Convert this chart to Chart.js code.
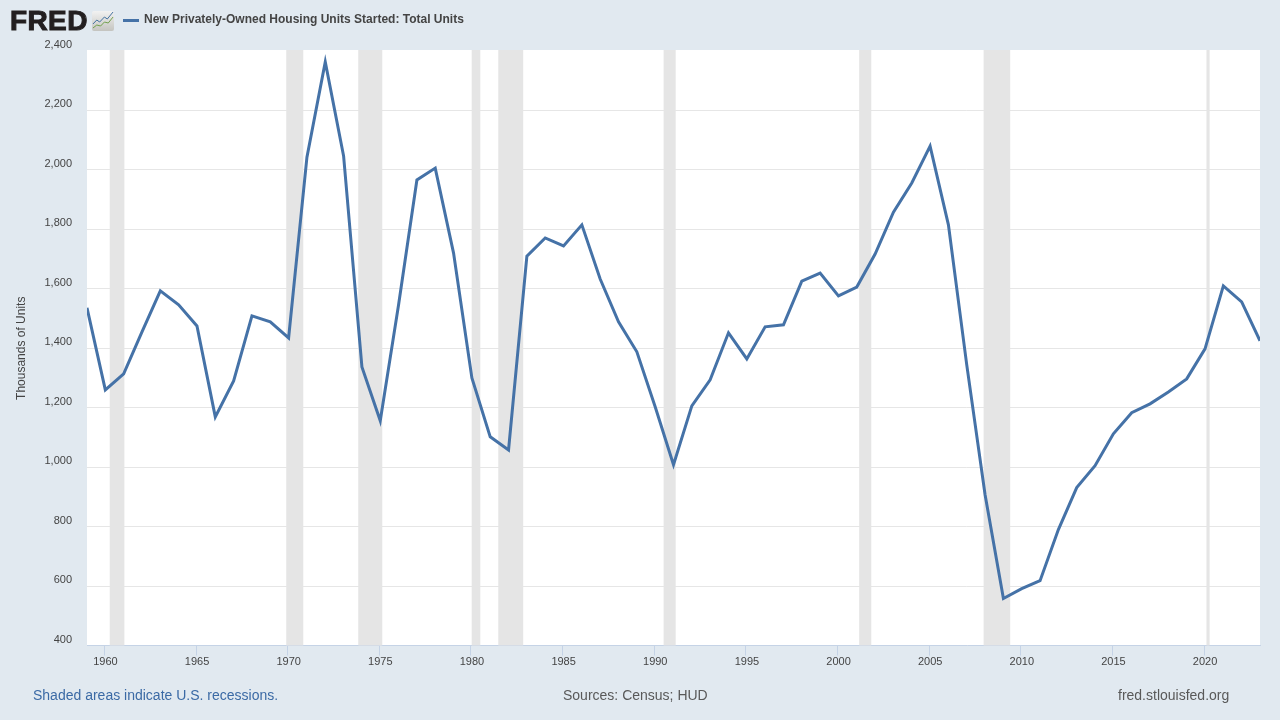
<!DOCTYPE html>
<html>
<head>
<meta charset="utf-8">
<title>FRED housing starts</title>
<script src="https://cdn.jsdelivr.net/npm/chart.js@4/dist/chart.umd.min.js"></script>
<style>
  html, body { margin: 0; padding: 0; background: #e1e9f0; }
  body { width: 1280px; height: 720px; position: relative; overflow: hidden; font-family: "Liberation Sans", Arial, sans-serif; }
  #wrap { position: absolute; left: 0; top: 0; width: 1280px; height: 720px; }
  .txt { position: absolute; white-space: nowrap; }
  #logo { left: 10px; top: 5px; font-size: 28px; line-height: 32px; font-weight: 700; color: #231f20; -webkit-text-stroke: 1px #231f20; letter-spacing: 0.4px; }
  #icon { position: absolute; left: 92px; top: 11px; }
  #swatch { position: absolute; left: 123px; top: 18.5px; width: 16px; height: 3px; background: #4572a7; }
  #title { left: 144px; top: 12px; font-size: 12px; line-height: 15px; font-weight: 700; color: #444; }
  #note { left: 33px; top: 687px; font-size: 14px; line-height: 16px; color: #3b6aa5; }
  #src { left: 563px; top: 687px; font-size: 14px; line-height: 16px; color: #595959; }
  #site { left: 1118px; top: 687px; font-size: 14px; line-height: 16px; color: #595959; }
</style>
</head>
<body>
<div id="wrap"><canvas id="chart" width="1280" height="720"></canvas></div>
<div class="txt" id="logo">FRED</div>
<svg id="icon" width="22" height="20" viewBox="0 0 23 20" preserveAspectRatio="none">
  <defs><linearGradient id="g" x1="0" y1="0" x2="0" y2="1"><stop offset="0" stop-color="#f2f2f2"/><stop offset="1" stop-color="#c4c4c0"/></linearGradient></defs>
  <rect x="0" y="0" width="23" height="20" rx="2" fill="url(#g)"/>
  <polyline points="1,13 5,9 8,11 13,6 16,8 22,1" fill="none" stroke="#3f6f9f" stroke-width="1"/>
  <polyline points="1,17 5,14 9,15 13,11 17,12 22,6" fill="none" stroke="#6f9f4a" stroke-width="1"/>
</svg>
<div id="swatch"></div>
<div class="txt" id="title">New Privately-Owned Housing Units Started: Total Units</div>
<div class="txt" id="note">Shaded areas indicate U.S. recessions.</div>
<div class="txt" id="src">Sources: Census; HUD</div>
<div class="txt" id="site">fred.stlouisfed.org</div>

<script>
const years = [1959,1960,1961,1962,1963,1964,1965,1966,1967,1968,1969,
  1970,1971,1972,1973,1974,1975,1976,1977,1978,1979,
  1980,1981,1982,1983,1984,1985,1986,1987,1988,1989,
  1990,1991,1992,1993,1994,1995,1996,1997,1998,1999,
  2000,2001,2002,2003,2004,2005,2006,2007,2008,2009,
  2010,2011,2012,2013,2014,2015,2016,2017,2018,2019,
  2020,2021,2022,2023];
const starts = [1536,1260,1314,1455,1593,1546,1475,1169,1290,1509,1489,
  1435,2043,2363,2047,1337,1156,1546,1966,2006,1720,
  1300,1102,1058,1710,1771,1744,1815,1633,1489,1388,
  1203,1008,1206,1294,1452,1364,1472,1479,1626,1653,
  1576,1606,1717,1858,1956,2080,1815,1344,907,558,
  591,618,790,931,1005,1112,1183,1213,1253,1297,
  1398,1610,1556,1425];
const xTicks = [1960,1965,1970,1975,1980,1985,1990,1995,2000,2005,2010,2015,2020];
const yTicks = [400,600,800,1000,1200,1400,1600,1800,2000,2200,2400];
// recession start / end in decimal years
const recessionStart = [1960.29,1969.92,1973.85,1980.04,1981.49,1990.51,2001.18,2007.97,2020.13];
const recessionEnd   = [1961.09,1970.85,1975.16,1980.51,1982.85,1991.17,2001.84,2009.42,2020.3];

// white plot background and the grey recession bands, both under the line
const bands = {
  id: 'bands',
  beforeDraw(chart) {
    const { ctx, chartArea: a } = chart;
    ctx.save();
    ctx.fillStyle = '#ffffff';
    ctx.fillRect(a.left, 50, a.right - a.left, a.bottom - 50);
    ctx.restore();
  },
  beforeDatasetsDraw(chart) {
    const { ctx, chartArea: a, scales: { x } } = chart;
    ctx.save();
    ctx.fillStyle = '#e5e5e5';
    recessionStart.forEach((s, i) => {
      const x0 = x.getPixelForValue(s);
      const x1 = x.getPixelForValue(recessionEnd[i]);
      ctx.fillRect(x0, 50, x1 - x0, a.bottom - 50);
    });
    ctx.restore();
  }
};

new Chart(document.getElementById('chart').getContext('2d'), {
  type: 'line',
  data: {
    labels: years,
    datasets: [{
      label: 'New Privately-Owned Housing Units Started: Total Units',
      // annual points sit a touch after the tick for that year
      data: years.map((y, i) => ({ x: y + 0.05, y: starts[i] })),
      borderColor: '#4572a7',
      borderWidth: 3,
      borderJoinStyle: 'miter',
      pointRadius: 0,
      tension: 0
    }]
  },
  options: {
    responsive: false,
    animation: false,
    layout: { padding: { top: 51, right: 20, left: 0, bottom: 0 } },
    plugins: { legend: { display: false }, title: { display: false }, tooltip: { enabled: false } },
    scales: {
      x: {
        type: 'linear',
        min: 1959.05,
        max: 2023.05,
        afterBuildTicks: axis => { axis.ticks = xTicks.map(value => ({ value })); },
        afterFit: axis => { axis.height = 74.5; },
        border: { color: '#c5d3e6', width: 1 },
        grid: { drawOnChartArea: false, drawTicks: true, tickLength: 10, color: '#c5d3e6' },
        ticks: {
          autoSkip: false, maxRotation: 0, padding: 0, labelOffset: 1,
          color: '#444', font: { family: '"Liberation Sans"', size: 11 },
          callback: v => String(v)
        }
      },
      y: {
        min: 400,
        max: 2400,
        afterBuildTicks: axis => { axis.ticks = yTicks.map(value => ({ value })); },
        afterFit: axis => { axis.width = 87; },
        border: { display: false },
        grid: {
          color: ctx => (ctx.tick && ctx.tick.value === 2400 ? 'rgba(0,0,0,0)' : '#e6e6e6'),
          drawTicks: false, lineWidth: 1
        },
        title: {
          display: true, text: 'Thousands of Units', color: '#444',
          font: { family: '"Liberation Sans"', size: 12 }, padding: { top: 14, bottom: 0 }
        },
        ticks: {
          autoSkip: false, padding: 15, labelOffset: -6,
          color: '#444', font: { family: '"Liberation Sans"', size: 11 },
          callback: v => v.toLocaleString('en-US')
        }
      }
    }
  },
  plugins: [bands]
});
</script>
</body>
</html>
